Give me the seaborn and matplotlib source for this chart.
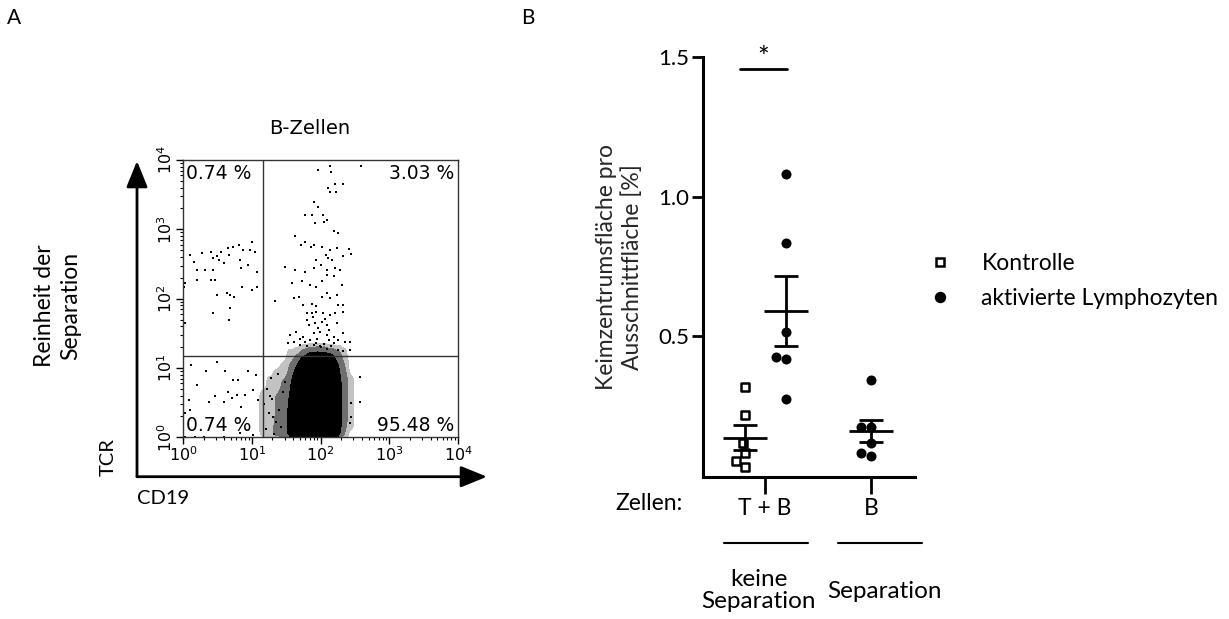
import numpy as np
import pandas as pd
import matplotlib
matplotlib.use("Agg")
import matplotlib.pyplot as plt
import matplotlib.transforms as mtransforms
from matplotlib.colors import ListedColormap
from matplotlib.patches import FancyArrowPatch
from matplotlib.lines import Line2D
import seaborn as sns

# ---------------------------------------------------------------- data (A)
# quadrant gates (CD19 / TCR, linear units)
gate_cd19 = 14.4
gate_tcr = 15.0
quadrant_labels = ["0.74 %", "3.03 %", "0.74 %", "95.48 %"]   # UL, UR, LL, LR

# sparse events, log10 units
ul_cd19 = [0.10, 0.16, 0.28, 0.40, 0.44, 0.49, 0.53, 0.55, 0.66, 0.73,
           0.81, 0.87, 0.97, 1.00, 1.04, 0.20, 0.32, 0.44, 0.59, 0.67,
           0.83, 0.85, 0.94, 1.07, 0.03, 0.03, 0.21, 0.40, 0.47, 0.49,
           0.64, 0.68, 0.74, 0.86, 1.01, 1.07, 0.43, 0.68, 0.67, 0.01]
ul_tcr = [2.63, 2.53, 2.66, 2.68, 2.58, 2.61, 2.56, 2.68, 2.73, 2.75,
          2.78, 2.70, 2.70, 2.82, 2.68, 2.41, 2.41, 2.41, 2.51, 2.63,
          2.56, 2.44, 2.49, 2.39, 2.22, 1.65, 2.27, 2.27, 2.27, 2.05,
          2.08, 2.05, 2.03, 2.17, 2.13, 2.17, 1.79, 1.86, 1.69, 2.17]

ll_cd19 = [0.11, 0.49, 0.34, 0.61, 0.94, 0.21, 0.72, 0.80, 1.06, 0.08,
           0.38, 0.47, 0.60, 0.66, 0.71, 0.79, 0.90, 1.02, 1.09, 0.85,
           0.03, 0.10, 0.03, 0.17, 0.30, 0.59, 0.83, 1.02]
ll_tcr = [1.04, 1.09, 0.95, 0.95, 0.96, 0.76, 0.83, 0.83, 0.90, 0.54,
          0.51, 0.59, 0.51, 0.66, 0.56, 0.61, 0.61, 0.68, 0.54, 0.44,
          0.35, 0.40, 0.01, 0.01, 0.01, 0.01, 0.06, 0.03]

ur_cd19 = [1.96, 2.14, 2.15, 2.59, 2.11, 2.21, 2.33, 2.14, 2.23, 1.91,
           1.97, 1.77, 1.87, 2.04, 2.10, 1.92, 2.05, 2.20, 2.26, 1.63,
           1.77, 1.71, 1.86, 1.90, 2.02, 2.14, 2.24, 2.32, 2.41, 2.45,
           2.08, 2.11, 2.16, 1.94, 1.49, 1.63, 1.77, 1.91, 2.00, 2.10,
           2.21, 2.28, 1.58, 1.73, 1.85, 1.94, 2.02, 2.09, 2.19, 2.31,
           1.61, 1.68, 1.75, 1.87, 1.94, 2.02, 2.09, 2.14, 2.24, 1.34,
           2.26, 2.33, 1.80, 1.87, 1.94, 2.04, 2.14, 2.21, 2.33, 1.80,
           1.92, 2.02, 2.09, 2.24, 1.56, 1.65, 1.75, 1.90, 1.99, 2.09,
           2.19, 2.33, 2.43, 2.36, 1.53, 1.62, 1.70, 1.80, 1.90, 1.99,
           2.09, 2.19, 2.26, 2.33, 2.43, 1.85, 1.95, 2.05, 2.12, 1.78,
           2.00, 2.15, 1.93, 2.25, 1.70, 1.83, 1.97, 2.12, 2.06, 1.89]
ur_tcr = [3.86, 3.92, 3.83, 3.92, 3.59, 3.66, 3.66, 3.54, 3.54, 3.40,
          3.32, 3.21, 3.21, 3.21, 3.14, 3.09, 3.10, 2.97, 2.94, 2.90,
          2.82, 2.78, 2.75, 2.78, 2.75, 2.70, 2.73, 2.61, 2.71, 2.65,
          2.63, 2.58, 2.56, 2.56, 2.46, 2.41, 2.39, 2.44, 2.49, 2.41,
          2.44, 2.41, 2.22, 2.25, 2.20, 2.17, 2.25, 2.34, 2.32, 2.20,
          2.01, 2.03, 1.91, 1.93, 1.89, 2.03, 2.08, 2.01, 2.05, 1.96,
          1.91, 1.91, 1.79, 1.79, 1.81, 1.79, 1.77, 1.79, 1.81, 1.69,
          1.65, 1.67, 1.62, 1.65, 1.48, 1.52, 1.45, 1.50, 1.52, 1.48,
          1.45, 1.50, 1.37, 1.37, 1.36, 1.38, 1.33, 1.31, 1.33, 1.31,
          1.28, 1.36, 1.26, 1.24, 1.26, 1.40, 1.42, 1.35, 1.41, 1.38,
          1.30, 1.32, 1.36, 1.40, 1.42, 1.62, 1.58, 1.55, 1.71, 1.73]

lr_cd19 = [2.57, 2.57, 2.45, 2.45, 2.43, 1.20, 1.25, 1.30, 1.22, 1.35,
           1.28, 1.40, 1.33, 1.18, 1.45, 1.38, 1.26, 1.42, 1.31, 1.48]
lr_tcr = [0.87, 0.51, 0.49, 0.30, 0.20, 0.12, 0.35, 0.55, 0.70, 0.22,
          0.85, 0.40, 0.05, 0.48, 0.65, 0.92, 0.60, 0.15, 0.30, 0.80]

# dense B-cell population: events per 0.1-decade cell (log10 centres)
dense_cd19 = [1.15, 1.25, 1.35, 1.45, 1.55, 1.65, 1.75, 1.85,
              1.95, 2.05, 2.15, 2.25, 2.35, 2.45, 2.55]
dense_tcr = [0.05, 0.15, 0.25, 0.35, 0.45, 0.55, 0.65,
             0.75, 0.85, 0.95, 1.05, 1.15, 1.25]
dense_counts = [
    [1, 2, 3, 4, 9, 35, 60, 60, 60, 60, 60, 10, 2, 0, 0],   # 0.05
    [1, 2, 2, 4, 9, 40, 60, 60, 60, 60, 60, 12, 2, 1, 0],   # 0.15
    [1, 2, 2, 4, 8, 40, 60, 60, 60, 60, 60, 15, 3, 1, 0],   # 0.25
    [1, 1, 2, 4, 8, 40, 60, 60, 60, 60, 60, 15, 3, 1, 0],   # 0.35
    [1, 1, 2, 3, 7, 40, 60, 60, 60, 60, 60, 15, 3, 1, 0],   # 0.45
    [1, 1, 2, 3, 6, 40, 60, 60, 60, 60, 60, 15, 3, 1, 0],   # 0.55
    [1, 1, 2, 3, 5, 30, 60, 60, 60, 60, 60, 15, 3, 1, 0],   # 0.65
    [0, 1, 1, 2, 4, 25, 60, 60, 60, 60, 60, 12, 3, 1, 0],   # 0.75
    [0, 1, 1, 2, 3, 15, 50, 60, 60, 60, 50, 10, 3, 1, 0],   # 0.85
    [0, 0, 1, 1, 2, 8, 40, 60, 60, 60, 40, 8, 2, 0, 0],     # 0.95
    [0, 0, 0, 1, 2, 5, 20, 40, 40, 40, 25, 6, 2, 0, 0],     # 1.05
    [0, 0, 0, 0, 1, 2, 6, 12, 15, 15, 10, 4, 1, 0, 0],      # 1.15
    [0, 0, 0, 0, 1, 1, 2, 3, 3, 3, 2, 2, 1, 0, 0],          # 1.25
]

# ---------------------------------------------------------------- data (B)
groups = ["T + B", "B"]
conditions = ["Kontrolle", "aktivierte Lymphozyten"]
kontrolle_tb = [0.318, 0.217, 0.115, 0.079, 0.053, 0.032]
aktiviert_tb = [1.081, 0.832, 0.513, 0.424, 0.418, 0.273]
aktiviert_b = [0.342, 0.173, 0.173, 0.118, 0.070, 0.080]
y_ticks = [0.5, 1.0, 1.5]
y_ticklabels = ["0.5", "1.0", "1.5"]
separation_labels = ["keine\nSeparation", "Separation"]

# ---------------------------------------------------------------- figure
sns.set_theme(style="ticks")
plt.rcParams["font.family"] = ["Lato", "DejaVu Sans"]
plt.rcParams["axes.edgecolor"] = "black"
plt.rcParams["xtick.color"] = "black"
plt.rcParams["ytick.color"] = "black"
plt.rcParams["text.color"] = "black"

W, H = 1229, 619
fig = plt.figure(figsize=(W / 100, H / 100), dpi=100)

def fx(px):
    return px / W

def fy(py):
    return 1 - py / H

# ------------------------------------------------------------ panel A
axA = fig.add_axes([fx(183), fy(437.3), fx(275), 277.3 / H])

cx, cy = np.meshgrid(dense_cd19, dense_tcr)
dense_df = pd.DataFrame({
    "cd19": 10 ** cx.ravel(),
    "tcr": 10 ** cy.ravel(),
    "n": np.asarray(dense_counts, dtype=float).ravel(),
})
dense_df = dense_df[dense_df.n > 0]
for lvl, col in ((0.003, "#c2c2c2"), (0.018, "#6e6e6e"), (0.055, "#000000")):
    sns.kdeplot(data=dense_df, x="cd19", y="tcr", weights="n",
                log_scale=(True, True), fill=True, levels=[lvl, 1],
                bw_adjust=0.45, cmap=ListedColormap([col]), ax=axA)

sparse_df = pd.DataFrame({
    "cd19": 10 ** np.array(ul_cd19 + ll_cd19 + ur_cd19 + lr_cd19),
    "tcr": 10 ** np.array(ul_tcr + ll_tcr + ur_tcr + lr_tcr),
})
sns.scatterplot(data=sparse_df, x="cd19", y="tcr", marker="s", s=3,
                color="black", linewidth=0, ax=axA)

axA.axvline(gate_cd19, color="#333333", lw=1)
axA.axhline(gate_tcr, color="#333333", lw=1)
axA.set_xlim(1, 1e4)
axA.set_ylim(1, 1e4)
axA.set_xlabel("")
axA.set_ylabel("")
for sp in axA.spines.values():
    sp.set_visible(True)
    sp.set_linewidth(1)
    sp.set_color("#333333")
axA.tick_params(which="major", direction="out", length=5, width=1,
                labelsize=11.5, pad=1)
axA.tick_params(which="minor", direction="out", length=2.5, width=0.8)
axA.tick_params(axis="y", labelrotation=90)
for lab in axA.get_xticklabels() + axA.get_yticklabels():
    lab.set_family("DejaVu Sans")
for lab in axA.get_yticklabels():
    lab.set_va("center")

pct_kw = dict(transform=axA.transAxes, fontsize=13.5, family="DejaVu Sans")
axA.text(0.012, 0.93, quadrant_labels[0], ha="left", va="baseline", **pct_kw)
axA.text(0.985, 0.93, quadrant_labels[1], ha="right", va="baseline", **pct_kw)
axA.text(0.012, 0.022, quadrant_labels[2], ha="left", va="baseline", **pct_kw)
axA.text(0.985, 0.022, quadrant_labels[3], ha="right", va="baseline", **pct_kw)

fig.text(fx(310), fy(128), "B-Zellen", ha="center", va="center",
         fontsize=14, family="DejaVu Sans")

arrow_kw = dict(arrowstyle="-|>,head_length=1.6,head_width=0.65",
                mutation_scale=10, lw=2, color="black",
                shrinkA=0, shrinkB=0, transform=fig.transFigure)
corner = (fx(137), fy(476.7))
fig.add_artist(FancyArrowPatch(corner, (fx(137), fy(161)), **arrow_kw))
fig.add_artist(FancyArrowPatch(corner, (fx(487), fy(476.7)), **arrow_kw))

fig.text(fx(108), fy(457), "TCR", rotation=90, ha="center", va="center",
         fontsize=14.5)
fig.text(fx(163), fy(499), "CD19", ha="center", va="center", fontsize=14.5)
fig.text(fx(58), fy(306), "Reinheit der\nSeparation", rotation=90,
         ha="center", va="center", fontsize=16.5, linespacing=1.3)
fig.text(fx(14), fy(18), "A", ha="center", va="center", fontsize=15)
fig.text(fx(528), fy(18), "B", ha="center", va="center", fontsize=15)

# ------------------------------------------------------------ panel B
axB = fig.add_axes([fx(703), fy(476.7), fx(212), (476.7 - 57) / H])

offsets = {"Kontrolle": -0.19, "aktivierte Lymphozyten": 0.2}
rows = []
for v in kontrolle_tb:
    rows.append((groups[0], conditions[0], v))
for v in aktiviert_tb:
    rows.append((groups[0], conditions[1], v))
for v in aktiviert_b:
    rows.append((groups[1], conditions[1], v))
dfB = pd.DataFrame(rows, columns=["group", "condition", "value"])
n_cond = dfB.groupby("group")["condition"].transform("nunique")
dfB["pos"] = dfB["group"].map({g: i for i, g in enumerate(groups)}) + \
    np.where(n_cond > 1, dfB["condition"].map(offsets), 0.0)

sns.swarmplot(data=dfB[dfB.condition == conditions[0]], x="pos", y="value",
              native_scale=True, orient="x", marker="s", size=5.6,
              color="white", edgecolor="black", linewidth=1.8, ax=axB,
              zorder=2)
sns.swarmplot(data=dfB[dfB.condition == conditions[1]], x="pos", y="value",
              native_scale=True, orient="x", marker="o", size=7.2,
              color="black", edgecolor="black", linewidth=0, ax=axB,
              zorder=2)

stats = dfB.groupby("pos")["value"].agg(["mean", "sem"])
axB.errorbar(stats.index, stats["mean"], yerr=stats["sem"], fmt="none",
             ecolor="black", elinewidth=2, capsize=8.6, capthick=2, zorder=3)
axB.hlines(stats["mean"], stats.index - 0.21, stats.index + 0.21,
           color="black", lw=2, zorder=3)

# significance bar
axB.plot([-0.236, 0.208], [1.457, 1.457], color="black", lw=2,
         clip_on=False)
axB.text(-0.02, 1.492, "*", ha="center", va="center", fontsize=20)

axB.set_xlim(-0.585, 1.415)
axB.set_ylim(-0.0043, 1.5)
sns.despine(ax=axB)
for sp in ("left", "bottom"):
    axB.spines[sp].set_linewidth(2.2)
axB.set_xticks([0, 1], groups)
axB.set_yticks(y_ticks, y_ticklabels)
axB.tick_params(axis="y", direction="out", length=8, width=2,
                labelsize=16, pad=2)
axB.tick_params(axis="x", direction="out", length=12, width=2,
                labelsize=16.5, pad=3)
axB.set_xlabel("")
axB.set_ylabel("Keimzentrumsfläche pro\nAusschnittfläche [%]",
               fontsize=16.5, linespacing=1.2)
axB.yaxis.set_label_coords(-0.285, 0.5)

bt = mtransforms.blended_transform_factory(axB.transData, fig.transFigure)
axB.text(-0.78, fy(504), "Zellen:", transform=bt, ha="right", va="center",
         fontsize=16.5)
for x0, x1 in ((-0.39, 0.405), (0.69, 1.48)):
    axB.add_line(Line2D([x0, x1], [fy(543), fy(543)], transform=bt,
                        color="black", lw=1.5, clip_on=False))
axB.text(-0.057, fy(590.5), separation_labels[0], transform=bt, ha="center",
         va="center", fontsize=17.5, linespacing=1.1)
axB.text(1.123, fy(591.7), separation_labels[1], transform=bt, ha="center",
         va="center", fontsize=17.5)

handles = [
    Line2D([], [], linestyle="none", marker="s", markersize=5.6,
           markerfacecolor="white", markeredgecolor="black",
           markeredgewidth=1.8),
    Line2D([], [], linestyle="none", marker="o", markersize=7.2,
           markerfacecolor="black", markeredgecolor="black"),
]
fig.legend(handles, conditions, loc="center left",
           bbox_to_anchor=(fx(931), fy(281)), bbox_transform=fig.transFigure,
           frameon=False, fontsize=16.5, handlelength=0.8, handletextpad=1.4,
           labelspacing=0.65, borderaxespad=0, borderpad=0)

fig.savefig("out.png", dpi=100)
